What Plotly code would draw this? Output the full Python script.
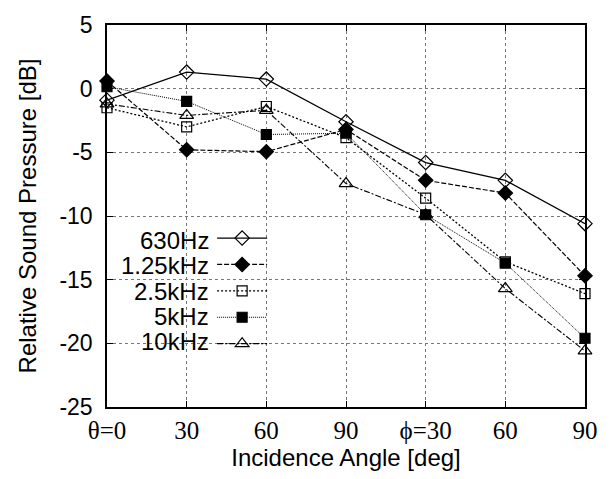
import plotly.graph_objects as go

x_pos = [0, 1, 2, 3, 4, 5, 6]
x_labels = ["θ=0", "30", "60", "90", "ϕ=30", "60", "90"]

series_names = ["630Hz", "1.25kHz", "2.5kHz", "5kHz", "10kHz"]
v630 = [-0.9, 1.3, 0.75, -2.6, -5.8, -7.2, -10.6]
v1250 = [0.6, -4.8, -4.95, -3.2, -7.2, -8.2, -14.7]
v2500 = [-1.5, -3.0, -1.4, -3.85, -8.6, -13.6, -16.1]
v5000 = [0.15, -1.0, -3.6, -3.5, -9.9, -13.7, -19.6]
v10000 = [-1.2, -2.1, -1.7, -7.45, -9.9, -15.7, -20.6]

y_ticks = [5, 0, -5, -10, -15, -20, -25]
y_labels = ["5", "0", "-5", "-10", "-15", "-20", "-25"]

styles = [
    dict(values=v630, symbol="diamond-open", size=11, dash="solid", width=1.3),
    dict(values=v1250, symbol="diamond", size=11, dash="5px,2px", width=1.2),
    dict(values=v2500, symbol="square-open", size=10, dash="2px,2px", width=1.3),
    dict(values=v5000, symbol="square", size=10, dash="1px,1px", width=1.0),
    dict(values=v10000, symbol="triangle-up-open", size=12, dash="6px,2px,2px,2px", width=1.1),
]

fig = go.Figure()
for name, st in zip(series_names, styles):
    fig.add_trace(go.Scatter(
        x=x_pos, y=st["values"], mode="lines+markers", name=" ",
        line=dict(color="black", width=st["width"], dash=st["dash"]),
        marker=dict(symbol=st["symbol"], size=st["size"], color="black",
                    line=dict(color="black", width=1.2)),
        cliponaxis=False,
    ))

L, R, T, B = 107, 21, 15, 68
W, H = 610, 479
pw, ph = W - L - R, H - T - B

def px_to_paper_y(ypix):
    return (H - B - ypix) / ph

def px_to_paper_x(xpix):
    return (xpix - L) / pw

row_px = [238, 264.5, 291, 317, 343]
for name, ry in zip(series_names, row_px):
    fig.add_annotation(
        x=px_to_paper_x(212), y=px_to_paper_y(ry), xref="paper", yref="paper",
        text=name, showarrow=False, xanchor="right", yanchor="middle",
        font=dict(family="Liberation Sans, Arial, sans-serif", size=24, color="black"),
    )

grid = dict(showgrid=True, gridcolor="#777", gridwidth=1, griddash="dot")

fig.update_layout(
    width=W, height=H,
    margin=dict(l=L, r=R, t=T, b=B),
    paper_bgcolor="white", plot_bgcolor="white",
    showlegend=True,
    legend=dict(
        x=px_to_paper_x(213), y=px_to_paper_y(217), xanchor="left", yanchor="top",
        bgcolor="rgba(0,0,0,0)", borderwidth=0, itemwidth=50,
        font=dict(family="Liberation Sans, Arial, sans-serif", size=18, color="black"),
        tracegroupgap=0,
    ),
    xaxis=dict(
        range=[0, 6], tickvals=x_pos, ticktext=x_labels,
        ticks="inside", ticklen=6, tickcolor="black", mirror="ticks",
        showline=True, linecolor="black", linewidth=1.5,
        zeroline=False,
        tickfont=dict(family="Liberation Serif, Times New Roman, serif", size=25, color="black"),
        title=dict(text="Incidence Angle [deg]", standoff=6,
                   font=dict(family="Liberation Sans, Arial, sans-serif", size=24, color="black")),
        **grid,
    ),
    yaxis=dict(
        range=[-25, 5], tickvals=y_ticks, ticktext=y_labels,
        ticks="inside", ticklen=6, tickcolor="black", mirror="ticks",
        showline=True, linecolor="black", linewidth=1.5,
        zeroline=False, ticklabelstandoff=8,
        tickfont=dict(family="Liberation Sans, Arial, sans-serif", size=23, color="black"),
        title=dict(text="Relative Sound Pressure [dB]", standoff=16,
                   font=dict(family="Liberation Sans, Arial, sans-serif", size=24, color="black")),
        **grid,
    ),
)

fig.write_html("out.html")
